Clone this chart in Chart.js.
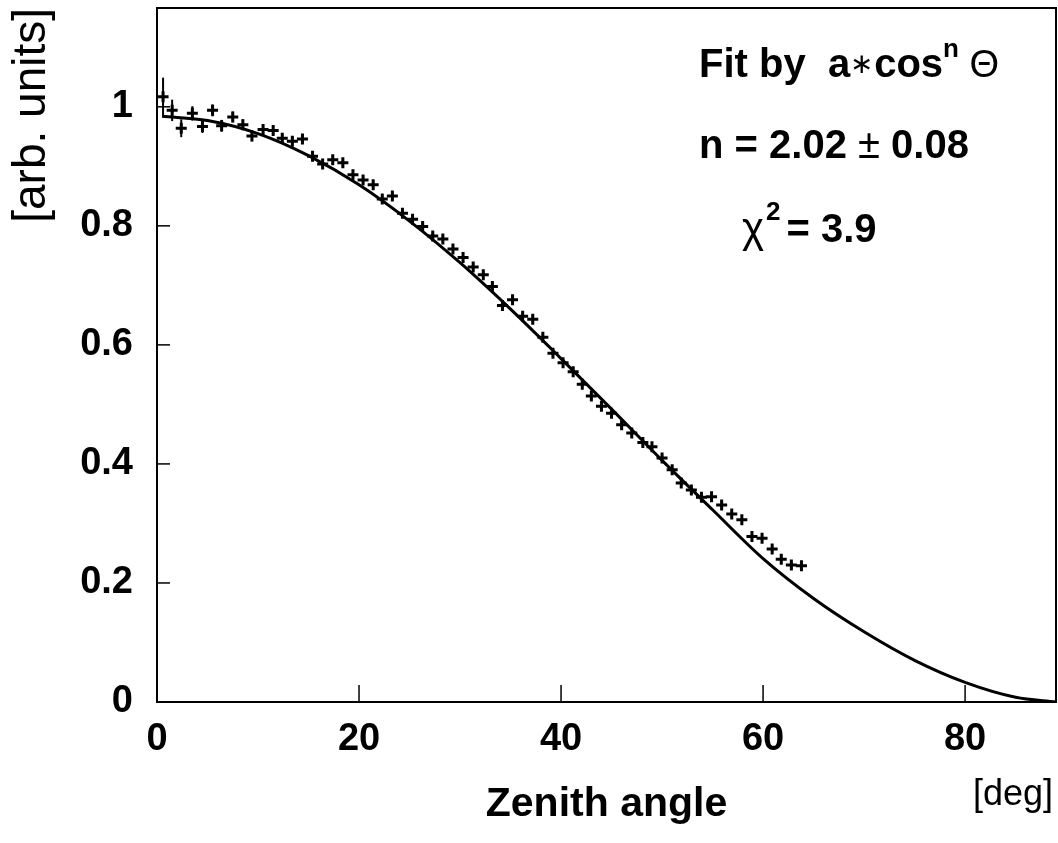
<!DOCTYPE html>
<html>
<head>
<meta charset="utf-8">
<title>Zenith angle distribution</title>
<script src="https://cdn.jsdelivr.net/npm/chart.js"></script>
<style>
  html, body { margin: 0; padding: 0; background: #fff; }
  #wrap { width: 1058px; height: 843px; }
</style>
</head>
<body>
<div id="wrap"><canvas id="zenith-chart" width="1058" height="843"></canvas></div>

<script>
    // Mesures : angle zenithal (deg) et taux (arb. units)
    var angles = [0.6, 1.5, 2.4, 3.5, 4.5, 5.5, 6.4, 7.5, 8.5, 9.4,
                  10.5, 11.5, 12.4, 13.4, 14.4, 15.4, 16.4, 17.4, 18.4, 19.4,
                  20.4, 21.4, 22.3, 23.3, 24.3, 25.3, 26.3, 27.3, 28.3, 29.3,
                  30.3, 31.3, 32.3, 33.2, 34.2, 35.2, 36.2, 37.2, 38.2, 39.2,
                  40.2, 41.2, 42.1, 43.0, 44.0, 45.0, 46.0, 47.0, 48.1, 49.0,
                  50.0, 51.0, 51.9, 52.9, 53.9, 54.9, 55.9, 56.9, 57.9, 58.9,
                  59.9, 60.9, 61.8, 62.8, 63.8];
    var rates = [1.017, 0.994, 0.964, 0.989, 0.967, 0.994, 0.968, 0.983, 0.970, 0.951,
                 0.962, 0.960, 0.947, 0.942, 0.946, 0.917, 0.904, 0.911, 0.906, 0.886,
                 0.877, 0.869, 0.845, 0.850, 0.821, 0.811, 0.799, 0.783, 0.778, 0.761,
                 0.747, 0.731, 0.718, 0.698, 0.666, 0.676, 0.648, 0.643, 0.613, 0.586,
                 0.570, 0.555, 0.534, 0.514, 0.497, 0.485, 0.466, 0.452, 0.436, 0.429,
                 0.410, 0.390, 0.368, 0.356, 0.344, 0.345, 0.331, 0.316, 0.306, 0.278,
                 0.275, 0.257, 0.240, 0.230, 0.229];
    var rateErrors = [0.032, 0.018, 0.015, 0.012, 0.011, 0.010, 0.010, 0.009, 0.009, 0.009,
                      0.008, 0.008, 0.008, 0.008, 0.008, 0.008, 0.008, 0.008, 0.008, 0.008,
                      0.007, 0.007, 0.007, 0.007, 0.007, 0.007, 0.007, 0.007, 0.007, 0.007,
                      0.007, 0.007, 0.007, 0.007, 0.007, 0.007, 0.007, 0.007, 0.007, 0.007,
                      0.007, 0.007, 0.007, 0.007, 0.007, 0.007, 0.007, 0.007, 0.007, 0.007,
                      0.007, 0.007, 0.007, 0.007, 0.007, 0.007, 0.007, 0.007, 0.007, 0.007,
                      0.007, 0.007, 0.007, 0.007, 0.007];

    // Courbe d'ajustement a*cos^n
    var fitAngles = [0.5, 5, 10, 15, 20, 25, 30, 35, 40, 45, 50, 55, 60, 65, 70, 75, 80, 85, 89];
    var fitValues = [0.984, 0.977, 0.955, 0.918, 0.869, 0.808, 0.738, 0.660, 0.577, 0.492,
                     0.406, 0.323, 0.241, 0.174, 0.118, 0.070, 0.033, 0.008, 0.000];

    var xTicks = [0, 20, 40, 60, 80];
    var yTicks = [0, 0.2, 0.4, 0.6, 0.8, 1];

    var FONT = "'Liberation Sans', Arial, Helvetica, sans-serif";

    // cadre, graduations internes, barres d'erreur et textes
    var framePlugin = {
        id: 'frame',
        afterDatasetsDraw: function(chart) {
            var ctx = chart.ctx;
            var xs = chart.scales.x, ys = chart.scales.y;
            var a = chart.chartArea;
            ctx.save();
            ctx.strokeStyle = '#000';

            // barres d'erreur verticales
            ctx.lineWidth = 2;
            angles.forEach(function(t, i) {
                var px = xs.getPixelForValue(t);
                ctx.beginPath();
                ctx.moveTo(px, ys.getPixelForValue(rates[i] + rateErrors[i]));
                ctx.lineTo(px, ys.getPixelForValue(rates[i] - rateErrors[i]));
                ctx.stroke();
            });

            // cadre
            ctx.lineWidth = 2;
            ctx.strokeRect(a.left, a.top, a.right - a.left, a.bottom - a.top);

            // graduations vers l'interieur
            ctx.lineWidth = 1.5;
            xTicks.forEach(function(v) {
                var px = xs.getPixelForValue(v);
                ctx.beginPath();
                ctx.moveTo(px, a.bottom);
                ctx.lineTo(px, a.bottom - 17);
                ctx.stroke();
            });
            yTicks.forEach(function(v) {
                var py = ys.getPixelForValue(v);
                ctx.beginPath();
                ctx.moveTo(a.left, py);
                ctx.lineTo(a.left + 13, py);
                ctx.stroke();
            });

            ctx.fillStyle = '#000';
            ctx.textBaseline = 'alphabetic';
            ctx.textAlign = 'left';

            function runs(x, y, parts) {
                parts.forEach(function(p) {
                    ctx.font = p.font;
                    ctx.fillText(p.text, x, y + (p.dy || 0));
                    x += ctx.measureText(p.text).width + (p.gap || 0);
                });
            }
            var B = 'bold 40px ' + FONT;
            runs(699, 77, [
                { text: 'Fit by  a', font: B },
                { text: '\u2217', font: '28px ' + FONT, dy: -4, gap: 1 },
                { text: 'cos', font: B },
                { text: 'n', font: 'bold 26px ' + FONT, dy: -20 },
                { text: ' \u0398', font: '38px ' + FONT }
            ]);
            runs(699, 158, [
                { text: 'n = 2.02 ', font: B },
                { text: '\u00b1', font: '40px ' + FONT },
                { text: ' 0.08', font: B }
            ]);
            runs(742, 242, [
                { text: '\u03c7', font: '42px ' + FONT, gap: 2 },
                { text: '2', font: 'bold 26px ' + FONT, dy: -22, gap: 6 },
                { text: '= 3.9', font: B }
            ]);

            ctx.textAlign = 'right';
            ctx.textBaseline = 'middle';
            ctx.font = '36px ' + FONT;
            ctx.fillText('[deg]', 1053, 795);
            ctx.restore();
        }
    };

    document.addEventListener("DOMContentLoaded", function() {
        var ctx = document.getElementById('zenith-chart').getContext('2d');
        var chart = new Chart(ctx, {
            type: 'scatter',
            data: {
                datasets: [{
                    label: 'fit',
                    data: fitAngles.map(function(t, i) { return { x: t, y: fitValues[i] }; }),
                    showLine: true,
                    borderColor: '#000',
                    borderWidth: 3,
                    pointRadius: 0,
                    cubicInterpolationMode: 'monotone'
                }, {
                    label: 'data',
                    data: angles.map(function(t, i) { return { x: t, y: rates[i] }; }),
                    pointStyle: 'cross',
                    pointRadius: 5.5,
                    borderColor: '#000',
                    backgroundColor: '#000',
                    borderWidth: 3
                }]
            },
            options: {
                responsive: false,
                animation: false,
                layout: { autoPadding: false, padding: { top: 8, right: 2, left: 0, bottom: 0 } },
                plugins: {
                    legend: { display: false },
                    tooltip: { enabled: false }
                },
                scales: {
                    x: {
                        type: 'linear',
                        min: 0,
                        max: 89,
                        afterBuildTicks: function(s) { s.ticks = xTicks.map(function(v) { return { value: v }; }); },
                        afterFit: function(s) {
                            s.height = 141;
                            s.paddingLeft = 0;
                            s.paddingRight = 0;
                        },
                        grid: { display: false, drawTicks: false },
                        border: { display: false },
                        ticks: {
                            color: '#000',
                            padding: 15,
                            maxRotation: 0,
                            font: { family: FONT, size: 38, weight: 'bold' },
                            callback: function(v) { return String(v); }
                        },
                        title: {
                            display: true,
                            text: 'Zenith angle',
                            color: '#000',
                            font: { family: FONT, size: 41, weight: 'bold' },
                            padding: { top: 0, bottom: 14 }
                        }
                    },
                    y: {
                        min: 0,
                        max: 1.166,
                        afterBuildTicks: function(s) { s.ticks = yTicks.map(function(v) { return { value: v }; }); },
                        afterFit: function(s) {
                            s.width = 157;
                            s.paddingTop = 0;
                            s.paddingBottom = 0;
                        },
                        grid: { display: false, drawTicks: false },
                        border: { display: false },
                        ticks: {
                            color: '#000',
                            padding: 24,
                            font: { family: FONT, size: 38, weight: 'bold' },
                            callback: function(v) { return String(Math.round(v * 10) / 10); }
                        },
                        title: {
                            display: true,
                            text: '[arb. units]',
                            align: 'end',
                            color: '#000',
                            font: { family: FONT, size: 46 },
                            padding: { top: 5, bottom: 0 }
                        }
                    }
                }
            },
            plugins: [framePlugin]
        });
    });
</script>
</body>
</html>
